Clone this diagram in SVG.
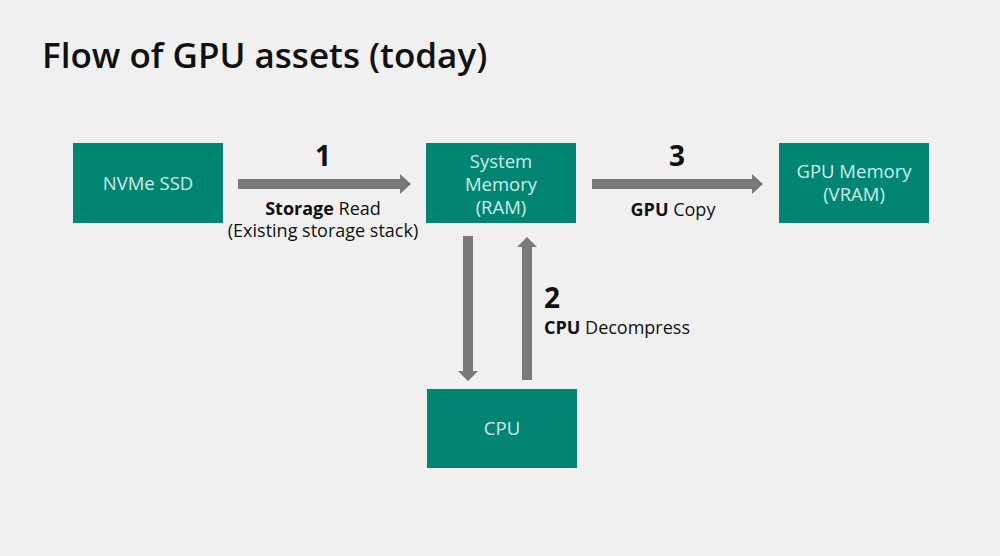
<svg xmlns="http://www.w3.org/2000/svg" width="1000" height="556" viewBox="0 0 1000 556">
<style>
.box{fill:#008573}
.bt{font-family:"Open Sans","Noto Sans",sans-serif;font-size:18.5px;fill:#cdeee6;text-anchor:middle}
.lbl{font-family:"Open Sans","Noto Sans",sans-serif;font-size:18px;fill:#111}
.num{font-family:"Open Sans","Noto Sans",sans-serif;font-size:28px;font-weight:bold;fill:#111}
.arr{fill:#7a7a7a}
</style>
<rect width="1000" height="556" fill="#f0f0f0"/>
<text x="42" y="68" font-family="Open Sans, Noto Sans, sans-serif" font-size="35" font-weight="600" fill="#111">Flow of GPU assets (today)</text>
<g id="connectors">
<polygon class="arr" points="238,179 400,179 400,174 411,184 400,194 400,189 238,189"/>
<polygon class="arr" points="592,179 752,179 752,174 763,184 752,194 752,189 592,189"/>
<polygon class="arr" points="463,236 473,236 473,371 478,371 468,381 458,371 463,371"/>
<polygon class="arr" points="522,380 532,380 532,247 537,247 527,237 517,247 522,247"/>
</g>
<g id="nvme"><rect class="box" x="73" y="143" width="150" height="80"/><text class="bt" x="148" y="190">NVMe SSD</text></g>
<g id="sysmem"><rect class="box" x="426" y="143" width="150" height="80"/><text class="bt" x="501" y="168">System</text><text class="bt" x="501" y="191">Memory</text><text class="bt" x="501" y="214">(RAM)</text></g>
<g id="gpumem"><rect class="box" x="779" y="143" width="150" height="80"/><text class="bt" x="854" y="178">GPU Memory</text><text class="bt" x="854" y="201">(VRAM)</text></g>
<g id="cpu"><rect class="box" x="427" y="389" width="150" height="79"/><text class="bt" x="502" y="435">CPU</text></g>
<g id="labels">
<text class="num" x="323" y="166" text-anchor="middle">1</text>
<text class="lbl" x="323" y="215" text-anchor="middle"><tspan font-weight="bold">Storage</tspan> Read</text>
<text class="lbl" x="323" y="237" text-anchor="middle">(Existing storage stack)</text>
<text class="num" x="677" y="166" text-anchor="middle">3</text>
<text class="lbl" x="673" y="216" text-anchor="middle"><tspan font-weight="bold">GPU</tspan> Copy</text>
<text class="num" x="544" y="308">2</text>
<text class="lbl" x="544" y="334"><tspan font-weight="bold">CPU</tspan> Decompress</text>
</g>
</svg>
